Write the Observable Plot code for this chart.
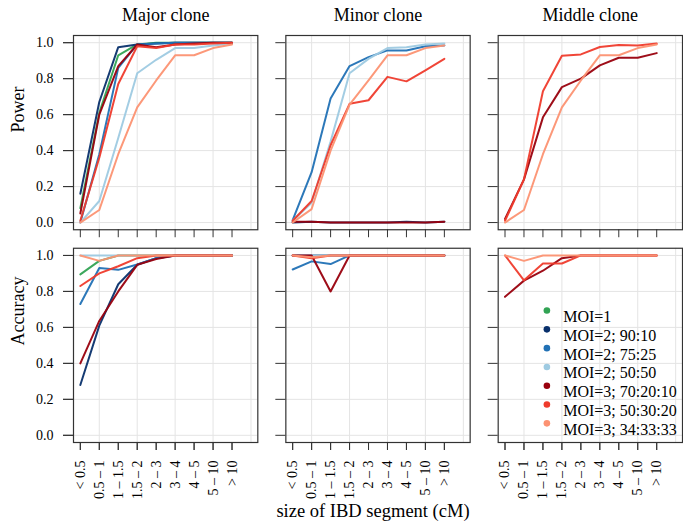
<!DOCTYPE html>
<html>
<head>
<meta charset="utf-8">
<script src="https://cdn.jsdelivr.net/npm/d3@7"></script>
<script src="https://cdn.jsdelivr.net/npm/@observablehq/plot@0.6"></script>
<style>
  html, body { margin: 0; padding: 0; background: white; }
  #chart { width: 683px; height: 527px; }
  #chart svg text { font-family: 'Liberation Serif', 'Times New Roman', serif; }
</style>
</head>
<body>
<div id="chart"></div>
<script>
// ---- categories & labels ----
const categories = ["< 0.5", "0.5 – 1", "1 – 1.5", "1.5 – 2", "2 – 3", "3 – 4", "4 – 5", "5 – 10", "> 10"];
const clones = ["Major clone", "Minor clone", "Middle clone"];
const metrics = ["Power", "Accuracy"];
const seriesNames = ["MOI=1", "MOI=2; 90:10", "MOI=2; 75:25", "MOI=2; 50:50",
                     "MOI=3; 70:20:10", "MOI=3; 50:30:20", "MOI=3; 34:33:33"];
const seriesColors = ["#31a354", "#08306b", "#2171b5", "#9ecae1", "#99000d", "#ef3b2c", "#fc9272"];
const yTicks = [0, 0.2, 0.4, 0.6, 0.8, 1.0];
const xTicks = [1, 2, 3, 4, 5, 6, 7, 8, 9];
const xGrid = [2, 4, 6, 8, 10];
const xLabel = "size of IBD segment (cM)";

// series present in each clone panel
const majorSeries = seriesNames;
const minorSeries = seriesNames.slice(1);
const middleSeries = seriesNames.slice(4);

// ---- values (one row per series, one value per category) ----
const majorPower = [
  [0.08, 0.61, 0.93, 0.99, 1.00, 1.00, 1.00, 1.00, 1.00],
  [0.16, 0.67, 0.975, 0.99, 0.995, 1.00, 1.00, 1.00, 1.00],
  [0.00, 0.38, 0.86, 0.99, 0.995, 1.00, 1.00, 1.00, 1.00],
  [0.00, 0.12, 0.47, 0.83, 0.905, 0.97, 0.97, 0.985, 0.995],
  [0.05, 0.60, 0.87, 0.99, 0.975, 0.99, 0.995, 1.00, 1.00],
  [0.01, 0.36, 0.77, 0.98, 0.97, 0.99, 0.99, 0.995, 1.00],
  [0.00, 0.07, 0.38, 0.64, 0.79, 0.93, 0.93, 0.97, 0.99]
];
const minorPower = [
  [0.00, 0.005, 0.00, 0.00, 0.00, 0.00, 0.005, 0.00, 0.005],
  [0.013, 0.28, 0.69, 0.87, 0.92, 0.957, 0.957, 0.98, 0.985],
  [0.01, 0.11, 0.45, 0.83, 0.91, 0.97, 0.975, 0.99, 0.995],
  [0.005, 0.005, 0.00, 0.00, 0.00, 0.00, 0.00, 0.00, 0.005],
  [0.01, 0.12, 0.43, 0.66, 0.68, 0.81, 0.785, 0.846, 0.91],
  [0.00, 0.075, 0.40, 0.656, 0.79, 0.93, 0.93, 0.97, 0.985]
];
const middlePower = [
  [0.02, 0.24, 0.585, 0.753, 0.80, 0.874, 0.916, 0.916, 0.942],
  [0.01, 0.24, 0.73, 0.927, 0.935, 0.976, 0.987, 0.985, 0.995],
  [0.00, 0.07, 0.38, 0.64, 0.79, 0.93, 0.93, 0.97, 0.99]
];
const majorAccuracy = [
  [0.895, 0.97, 1, 1, 1, 1, 1, 1, 1],
  [0.28, 0.61, 0.84, 0.948, 0.985, 1, 1, 1, 1],
  [0.73, 0.93, 0.92, 0.95, 0.985, 1, 1, 1, 1],
  [1, 1, 1, 1, 1, 1, 1, 1, 1],
  [0.40, 0.636, 0.80, 0.948, 0.98, 1, 1, 1, 1],
  [0.83, 0.90, 0.94, 0.985, 1, 1, 1, 1, 1],
  [1, 0.97, 1, 1, 1, 1, 1, 1, 1]
];
const minorAccuracy = [
  [1, 1, 1, 1, 1, 1, 1, 1, 1],
  [0.922, 0.967, 0.952, 1, 1, 1, 1, 1, 1],
  [1, 1, 1, 1, 1, 1, 1, 1, 1],
  [1, 1, 0.80, 1, 1, 1, 1, 1, 1],
  [1, 0.985, 1, 1, 1, 1, 1, 1, 1],
  [1, 0.99, 1, 1, 1, 1, 1, 1, 1]
];
const middleAccuracy = [
  [0.77, 0.86, 0.915, 0.985, 1, 1, 1, 1, 1],
  [1, 0.862, 0.955, 0.955, 1, 1, 1, 1, 1],
  [1, 0.97, 1, 1, 1, 1, 1, 1, 1]
];

// ---- tidy table built from the arrays ----
const panels = [
  ["Major clone", "Power", majorSeries, majorPower],
  ["Minor clone", "Power", minorSeries, minorPower],
  ["Middle clone", "Power", middleSeries, middlePower],
  ["Major clone", "Accuracy", majorSeries, majorAccuracy],
  ["Minor clone", "Accuracy", minorSeries, minorAccuracy],
  ["Middle clone", "Accuracy", middleSeries, middleAccuracy]
];
const rows = [];
for (const s of seriesNames) {
  for (const [clone, metric, names, vals] of panels) {
    const k = names.indexOf(s);
    if (k < 0) continue;
    vals[k].forEach((v, i) => rows.push({clone, metric, series: s, key: clone + "|" + metric + "|" + s, xi: i + 1, value: v}));
  }
}

const serif = "'Liberation Serif', 'Times New Roman', serif";
const axisColor = "#333";
const gridColor = "#e4e4e4";

const legendMarks = seriesNames.flatMap((s, i) => [
  Plot.dot([s], {fx: () => "Middle clone", fy: () => "Accuracy", frameAnchor: "top-left",
    dx: 48.7, dy: 62.3 + i * 18.8, r: 3.3, fill: d => d, stroke: null}),
  Plot.text([s], {fx: () => "Middle clone", fy: () => "Accuracy", frameAnchor: "top-left",
    dx: 65, dy: 62.3 + i * 18.8, text: d => d, textAnchor: "start", fontSize: 16, fontFamily: serif, fill: "black"})
]);

const chart = Plot.plot({
  width: 683,
  height: 527,
  marginLeft: 73,
  marginRight: 1,
  marginTop: 35,
  marginBottom: 85,
  style: {fontFamily: serif, fontSize: "14px", color: "black", background: "white"},
  x: {domain: [0.64, 10.36]},
  y: {domain: [-0.04, 1.04]},
  fx: {domain: clones, axis: null, paddingInner: 0.132, paddingOuter: 0, round: false},
  fy: {domain: metrics, axis: null, paddingInner: 0.087, paddingOuter: 0, round: false},
  color: {domain: seriesNames, range: seriesColors},
  marks: [
    Plot.gridX(xGrid, {stroke: gridColor, strokeOpacity: 1}),
    Plot.gridY(yTicks, {stroke: gridColor, strokeOpacity: 1}),
    Plot.line(rows, {x: "xi", y: "value", z: "key", stroke: "series", fx: "clone", fy: "metric",
      strokeWidth: 2, strokeOpacity: 0.95, curve: "linear"}),
    Plot.frame({stroke: axisColor, strokeWidth: 1.2}),
    // ticks on every panel
    Plot.axisX(xTicks, {tickFormat: () => "", facetAnchor: null, tickSize: 8, label: null, stroke: axisColor}),
    Plot.axisY(yTicks, {tickFormat: () => "", facetAnchor: null, tickSize: 10, label: null, stroke: axisColor}),
    // labels on outer panels
    Plot.axisX(xTicks, {tickFormat: i => categories[i - 1], tickRotate: -90, tickSize: 8, tickPadding: 10,
      label: null, stroke: axisColor, fill: "black", fontSize: 14, fontFamily: serif, fontVariant: "normal"}),
    Plot.axisY(yTicks, {tickFormat: d3.format(".1f"), tickSize: 10, tickPadding: 10,
      label: null, stroke: axisColor, fill: "black", fontSize: 14, fontFamily: serif, fontVariant: "normal"}),
    // column titles
    Plot.text(clones, {fx: d => d, fy: () => "Power", text: d => d, frameAnchor: "top", dy: -26.8,
      fontSize: 18, fontFamily: serif, fill: "black"}),
    // row titles
    Plot.text(metrics, {fy: d => d, fx: () => "Major clone", text: d => d, frameAnchor: "left", dx: -55,
      rotate: -90, fontSize: 18, fontFamily: serif, fill: "black"}),
    // x title
    Plot.text([xLabel], {fx: () => "Minor clone", fy: () => "Accuracy", text: d => d, frameAnchor: "bottom",
      dy: 74, dx: -5, fontSize: 18.5, fontFamily: serif, fill: "black"}),
    ...legendMarks
  ]
});
document.getElementById("chart").appendChild(chart);
</script>
</body>
</html>
